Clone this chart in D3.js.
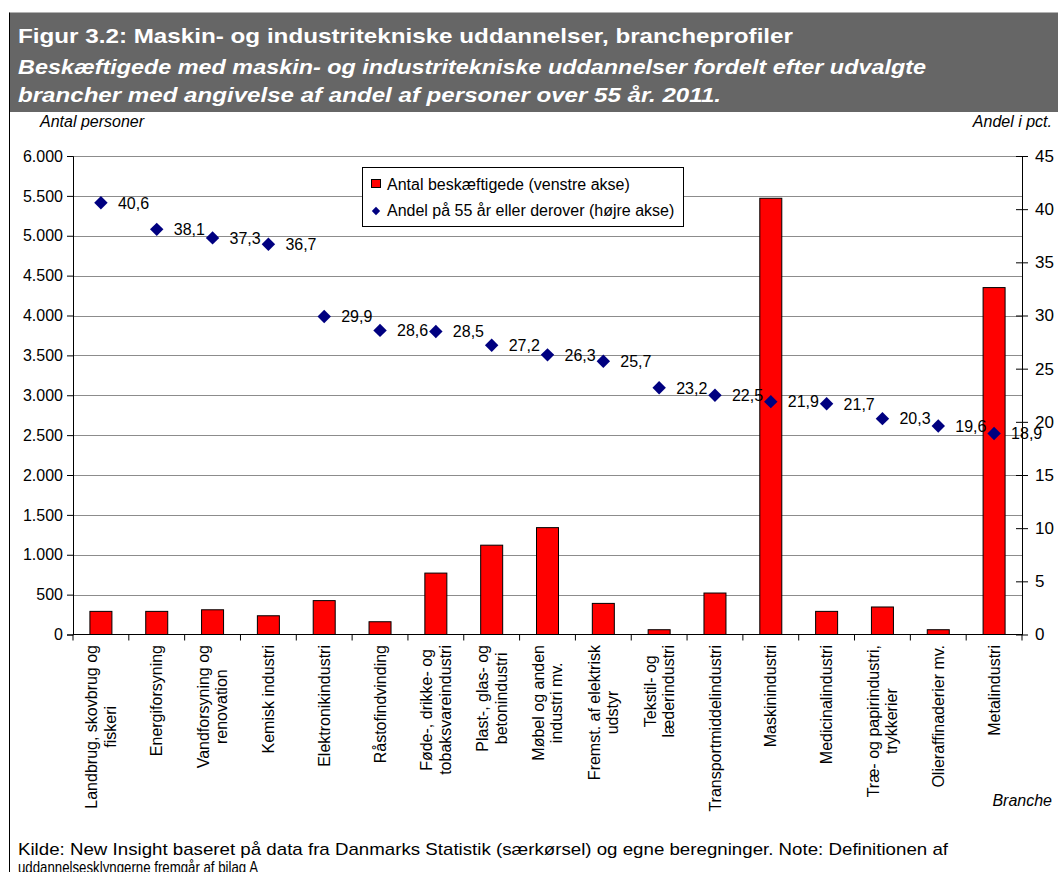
<!DOCTYPE html>
<html>
<head>
<meta charset="utf-8">
<script src="https://cdn.jsdelivr.net/npm/d3@7"></script>
<style>
  html, body { margin: 0; padding: 0; background: #fff; }
  svg { display: block; font-family: "Liberation Sans", Arial, sans-serif; }
</style>
</head>
<body>
<svg id="chart" width="1058" height="872"></svg>
<script>
// ---- Data ----
const categories = [
  ["Landbrug, skovbrug og", "fiskeri"],
  ["Energiforsyning"],
  ["Vandforsyning og", "renovation"],
  ["Kemisk industri"],
  ["Elektronikindustri"],
  ["Råstofindvinding"],
  ["Føde-, drikke- og", "tobaksvareindustri"],
  ["Plast-, glas- og", "betonindustri"],
  ["Møbel og anden", "industri mv."],
  ["Fremst. af elektrisk", "udstyr"],
  ["Tekstil- og", "læderindustri"],
  ["Transportmiddelindustri"],
  ["Maskinindustri"],
  ["Medicinalindustri"],
  ["Træ- og papirindustri,", "trykkerier"],
  ["Olieraffinaderier mv."],
  ["Metalindustri"]
];
const antalBeskaeftigede = [290, 290, 310, 235, 425, 160, 770, 1120, 1340, 390, 60, 520, 5470, 290, 345, 60, 4350];
const andel55 = [40.6, 38.1, 37.3, 36.7, 29.9, 28.6, 28.5, 27.2, 26.3, 25.7, 23.2, 22.5, 21.9, 21.7, 20.3, 19.6, 18.9];
const leftTicks = [0, 500, 1000, 1500, 2000, 2500, 3000, 3500, 4000, 4500, 5000, 5500, 6000];
const rightTicks = [0, 5, 10, 15, 20, 25, 30, 35, 40, 45];
const titleText = "Figur 3.2: Maskin- og industritekniske uddannelser, brancheprofiler";
const subtitleLines = [
  "Beskæftigede med maskin- og industritekniske uddannelser fordelt efter udvalgte",
  "brancher med angivelse af andel af personer over 55 år. 2011."
];
const legendLabels = ["Antal beskæftigede (venstre akse)", "Andel på 55 år eller derover (højre akse)"];
const footerLines = [
  "Kilde: New Insight baseret på data fra Danmarks Statistik (særkørsel) og egne beregninger. Note: Definitionen af",
  "uddannelsesklyngerne fremgår af bilag A"
];

// ---- Layout ----
const svg = d3.select("#chart");
const W = 1058, H = 872;
const plot = { left: 73, right: 1022, top: 156, bottom: 634.5 };

const fmtLeft = d => d3.format(",")(d).replace(/,/g, ".");
const fmtPct = d => d3.format(".1f")(d).replace(".", ",");

// Header band
svg.append("rect").attr("x", 9.5).attr("y", 12.5).attr("width", W - 9.5).attr("height", 99.5).attr("fill", "#666666");
svg.append("line").attr("x1", 9.5).attr("x2", 9.5).attr("y1", 12.5).attr("y2", H).attr("stroke", "#000").attr("stroke-width", 1);

svg.append("text").attr("x", 18).attr("y", 43).attr("fill", "#fff")
  .attr("font-size", 21).attr("font-weight", "bold")
  .attr("textLength", 775).attr("lengthAdjust", "spacingAndGlyphs").text(titleText);
const subLens = [908, 703];
subtitleLines.forEach((t, i) => {
  svg.append("text").attr("x", 18).attr("y", 74 + i * 28).attr("fill", "#fff")
    .attr("font-size", 21).attr("font-weight", "bold").attr("font-style", "italic")
    .attr("textLength", subLens[i]).attr("lengthAdjust", "spacingAndGlyphs").text(t);
});

svg.append("text").attr("x", 40).attr("y", 127).attr("font-size", 16).attr("font-style", "italic").text("Antal personer");
svg.append("text").attr("x", 1052).attr("y", 127).attr("font-size", 16).attr("font-style", "italic")
  .attr("text-anchor", "end").text("Andel i pct.");

// Scales
const x = d3.scaleBand().domain(d3.range(categories.length)).range([plot.left, plot.right]).paddingInner(0).paddingOuter(0);
const yL = d3.scaleLinear().domain([0, 6000]).range([plot.bottom, plot.top]);
const yR = d3.scaleLinear().domain([0, 45]).range([plot.bottom, plot.top]);

// Gridlines
svg.append("g").selectAll("line").data(leftTicks.filter(d => d > 0)).join("line")
  .attr("x1", plot.left).attr("x2", plot.right)
  .attr("y1", d => Math.round(yL(d)) + 0.5).attr("y2", d => Math.round(yL(d)) + 0.5)
  .attr("stroke", "#8c8c8c").attr("stroke-width", 1.2);

// Bars
const barW = 22;
svg.append("g").selectAll("rect").data(antalBeskaeftigede).join("rect")
  .attr("x", (d, i) => x(i) + x.bandwidth() / 2 - barW / 2)
  .attr("y", d => yL(d))
  .attr("width", barW)
  .attr("height", d => yL(0) - yL(d))
  .attr("fill", "#ff0000").attr("stroke", "#000").attr("stroke-width", 1);

// Left axis
const axL = svg.append("g").attr("transform", `translate(${plot.left},0)`)
  .call(d3.axisLeft(yL).tickValues(leftTicks).tickFormat(fmtLeft).tickSize(6).tickPadding(4));
axL.select(".domain").attr("stroke", "#000");
axL.selectAll("text").attr("font-size", 16).attr("font-family", "Liberation Sans, Arial, sans-serif").attr("fill", "#000");

// Right axis (ticks cross axis)
const axR = svg.append("g").attr("transform", `translate(${plot.right},0)`)
  .call(d3.axisRight(yR).tickValues(rightTicks).tickSize(6).tickPadding(7).tickSizeOuter(0));
axR.select(".domain").attr("stroke", "#000");
axR.selectAll(".tick line").attr("x1", -6).attr("x2", 6);
axR.selectAll("text").attr("font-size", 17).attr("font-family", "Liberation Sans, Arial, sans-serif").attr("fill", "#000");

// X axis
const axX = svg.append("g").attr("transform", `translate(0,${plot.bottom})`);
axX.append("line").attr("x1", plot.left).attr("x2", plot.right).attr("stroke", "#000");
axX.selectAll(".bt").data(d3.range(categories.length + 1)).join("line")
  .attr("class", "bt")
  .attr("x1", i => i < categories.length ? x(i) : plot.right)
  .attr("x2", i => i < categories.length ? x(i) : plot.right)
  .attr("y1", 0).attr("y2", 6).attr("stroke", "#000");

// Diamonds
const diamond = d3.symbol().type(d3.symbolDiamond2).size(115);
svg.append("g").selectAll("path").data(andel55).join("path")
  .attr("d", diamond)
  .attr("transform", (d, i) => `translate(${x(i) + x.bandwidth() / 2},${yR(d)})`)
  .attr("fill", "#000080");

// Data labels
svg.append("g").selectAll("text").data(andel55).join("text")
  .attr("x", (d, i) => x(i) + x.bandwidth() / 2 + 17)
  .attr("y", d => yR(d))
  .attr("dy", "0.36em")
  .attr("font-size", 16).attr("fill", "#000")
  .text(fmtPct);

// X labels (rotated)
const lh = 18.5;
const xl = svg.append("g");
categories.forEach((lines, i) => {
  const g = xl.append("g").attr("transform", `translate(${x(i) + x.bandwidth() / 2},645) rotate(-90)`);
  const texts = lines.map((t, j) => g.append("text").attr("font-size", 16).attr("fill", "#000")
    .attr("text-anchor", "middle").attr("dy", "0.35em")
    .attr("y", (j - (lines.length - 1) / 2) * lh).text(t));
  const maxW = d3.max(texts, t => t.node().getComputedTextLength());
  texts.forEach(t => t.attr("x", -maxW / 2));
});

svg.append("text").attr("x", 1052).attr("y", 806).attr("font-size", 16).attr("font-style", "italic")
  .attr("text-anchor", "end").text("Branche");

// Legend
const lg = svg.append("g");
lg.append("rect").attr("x", 362.5).attr("y", 167.5).attr("width", 321).attr("height", 59)
  .attr("fill", "#fff").attr("stroke", "#000").attr("stroke-width", 1);
lg.append("rect").attr("x", 371.5).attr("y", 179.5).attr("width", 9).attr("height", 8)
  .attr("fill", "#ff0000").attr("stroke", "#000");
lg.append("path").attr("d", d3.symbol().type(d3.symbolDiamond2).size(45))
  .attr("transform", "translate(376,211)").attr("fill", "#000080");
legendLabels.forEach((t, i) => {
  lg.append("text").attr("x", 387).attr("y", 184 + i * 26).attr("dy", "0.36em")
    .attr("font-size", 16).attr("fill", "#000").text(t);
});

// Footer
const footLens = [930, 240];
footerLines.forEach((t, i) => {
  svg.append("text").attr("x", 18).attr("y", 855 + i * 18).attr("font-size", 17).attr("fill", "#000")
    .attr("textLength", footLens[i]).attr("lengthAdjust", "spacingAndGlyphs").text(t);
});
</script>
</body>
</html>
